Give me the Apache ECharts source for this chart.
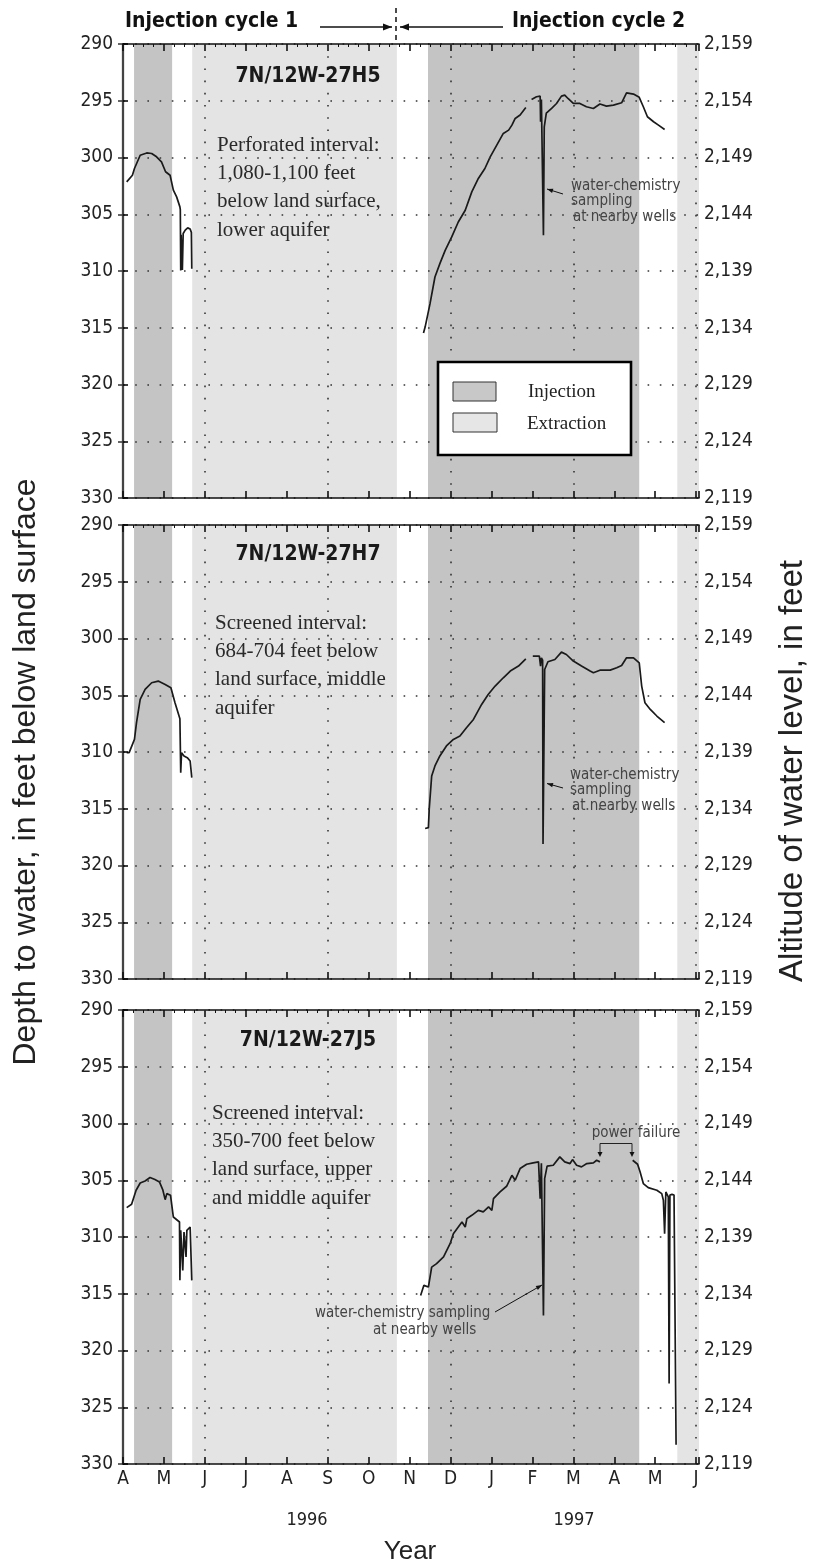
<!DOCTYPE html>
<html><head><meta charset="utf-8">
<script src="https://cdn.jsdelivr.net/npm/echarts@6/dist/echarts.min.js"></script>
<style>html,body{margin:0;padding:0;background:#fff}#c{width:817px;height:1562px}</style>
</head><body><div id="c"></div>
<script>
// ---------------- data ----------------
const monthLabels = ['A','M','J','J','A','S','O','N','D','J','F','M','A','M','J']; // Apr 1996 .. Jun 1997 (x = month index)
const yearLabels = ['1996','1997'];
const wellNames = ['7N/12W-27H5','7N/12W-27H7','7N/12W-27J5'];
const injectionPeriods = [[0.27,1.20],[7.45,12.61]];
const extractionPeriods = [[1.69,6.69],[13.54,14.07]];
const gridMonths = [2,5,8,11,14];
const LAND_ALT = 2449; // altitude = LAND_ALT - depth

// 7N/12W-27H5
const h5_1996 = [[0.09,302.15],[0.23,301.56],[0.28,300.97],[0.42,299.8],[0.58,299.6],[0.70,299.65],[0.82,299.94],[0.94,300.38],[1.04,301.26],[1.15,301.56],[1.23,302.88],[1.31,303.47],[1.39,304.35],[1.40,304.6],[1.41,309.95],[1.42,306.8],[1.44,306.9],[1.45,309.9],[1.47,306.7],[1.52,306.4],[1.58,306.2],[1.64,306.3],[1.67,306.6],[1.68,309.8]];
const h5_1997a = [[7.34,315.47],[7.38,314.94],[7.50,312.88],[7.62,310.53],[7.74,309.35],[7.87,308.18],[8.03,307.0],[8.19,305.68],[8.36,304.65],[8.52,303.03],[8.68,301.85],[8.84,300.97],[8.97,299.94],[9.13,298.91],[9.29,297.88],[9.42,297.59],[9.50,297.15],[9.58,296.56],[9.70,296.26],[9.84,295.59]];
const h5_1997b = [[9.98,294.88],[10.10,294.65],[10.19,294.6],[10.20,296.85],[10.22,294.9],[10.25,294.8],[10.27,306.85],[10.29,297.3],[10.34,296.1],[10.47,295.68],[10.59,295.24],[10.71,294.59],[10.79,294.5],[10.87,294.8],[11.0,295.24],[11.16,295.24],[11.32,295.53],[11.49,295.68],[11.65,295.29],[11.81,295.47],[11.98,295.38],[12.18,295.18],[12.30,294.3],[12.47,294.41],[12.61,294.7],[12.71,295.53],[12.81,296.41],[12.96,296.85],[13.08,297.15],[13.23,297.53]];

// 7N/12W-27H7
const h7_1996 = [[0.09,310.06],[0.15,310.06],[0.28,308.89],[0.33,307.42],[0.42,305.37],[0.54,304.49],[0.70,303.9],[0.86,303.75],[1.03,304.05],[1.17,304.34],[1.27,305.66],[1.39,307.07],[1.41,311.82],[1.43,310.06],[1.49,310.35],[1.57,310.5],[1.64,310.79],[1.68,312.26]];
const h7_1997a = [[7.38,316.74],[7.46,316.66],[7.48,315.04],[7.54,312.11],[7.62,311.23],[7.74,310.35],[7.90,309.47],[8.07,308.89],[8.23,308.59],[8.39,307.86],[8.56,307.13],[8.76,305.81],[8.92,304.93],[9.09,304.19],[9.29,303.46],[9.46,302.87],[9.66,302.43],[9.84,301.79]];
const h7_1997b = [[10.01,301.55],[10.17,301.55],[10.20,302.43],[10.22,301.7],[10.25,301.9],[10.26,318.1],[10.30,302.73],[10.38,302.05],[10.55,301.85],[10.71,301.2],[10.83,301.41],[11.0,301.99],[11.20,302.43],[11.41,302.87],[11.49,303.02],[11.65,302.79],[11.90,302.79],[12.06,302.58],[12.18,302.38],[12.30,301.7],[12.47,301.7],[12.61,302.14],[12.67,304.19],[12.75,305.66],[12.88,306.25],[13.04,306.83],[13.23,307.42]];

// 7N/12W-27J5
const j5_1996 = [[0.09,307.41],[0.21,307.12],[0.32,305.88],[0.42,305.24],[0.54,305.06],[0.66,304.76],[0.78,304.94],[0.89,305.15],[0.97,305.82],[1.03,306.71],[1.07,306.18],[1.16,306.32],[1.23,308.24],[1.38,308.68],[1.39,313.82],[1.41,309.41],[1.46,312.94],[1.49,309.56],[1.54,311.76],[1.56,309.41],[1.64,309.12],[1.68,313.82]];
const j5_1997a = [[7.27,315.15],[7.35,314.26],[7.46,314.41],[7.54,312.65],[7.66,312.35],[7.83,311.76],[7.99,310.59],[8.07,309.71],[8.19,309.12],[8.28,308.68],[8.36,309.12],[8.40,308.38],[8.52,308.09],[8.68,307.65],[8.80,307.79],[8.93,307.35],[9.01,307.65],[9.05,306.62],[9.21,306.03],[9.37,305.53],[9.50,304.56],[9.58,305.0],[9.70,303.97],[9.86,303.59],[10.02,303.47],[10.15,303.38],[10.19,306.62],[10.22,303.5],[10.25,303.38],[10.27,316.91],[10.30,304.85],[10.36,303.76],[10.51,303.68],[10.67,302.94],[10.79,303.38],[10.92,303.53],[10.98,303.18],[11.08,303.68],[11.20,303.82],[11.33,303.53],[11.49,303.47],[11.57,303.24],[11.65,303.38]];
const j5_1997b = [[12.45,303.24],[12.57,303.59],[12.63,304.26],[12.71,305.29],[12.83,305.65],[13.04,305.88],[13.16,306.18],[13.20,306.76],[13.23,309.71],[13.26,306.03],[13.32,306.47],[13.34,322.9],[13.36,306.3],[13.41,306.24],[13.46,306.3],[13.50,306.4],[13.51,328.3]];

const wellSeries = [[h5_1996,h5_1997a,h5_1997b],[h7_1996,h7_1997a,h7_1997b],[j5_1996,j5_1997a,j5_1997b]];

// ---------------- layout / style ----------------
const panelTops = [44, 525, 1010];
const PH = 454;
const FN = "'Liberation Sans Narrow','DejaVu Sans Condensed','Roboto Condensed','Liberation Sans',sans-serif";
const FS = "'Liberation Serif','DejaVu Serif',serif";
const FA = "'Liberation Sans',Arial,sans-serif";
const INJ = '#c4c4c4', EXT = '#e4e4e4';
const dotted = {type:[1.6,10.6], color:'#333', width:1.6};

const chart = echarts.init(document.getElementById('c'), null, {renderer:'canvas'});

const grids = [], xAxes = [], yAxes = [], series = [];
panelTops.forEach((top,i)=>{
  grids.push({left:123, right:118, top:top, height:PH});
  const xBase = {gridIndex:i, type:'value', min:0, max:14.07, interval:1, splitLine:{show:false}, z:4,
    axisLine:{lineStyle:{color:'#111', width:1.6}},
    axisTick:{inside:true, length:7, lineStyle:{color:'#111', width:1.6}}};
  xAxes.push(Object.assign({}, xBase, {position:'bottom',
    axisLabel:{show:i===2, margin:6, fontSize:19, color:'#222', fontFamily:FN,
      formatter:v=>Math.abs(v-Math.round(v))<1e-6 ? (monthLabels[Math.round(v)]||'') : ''}}));
  xAxes.push(Object.assign({}, xBase, {position:'top', axisLabel:{show:false},
    minorTick:{show:true, splitNumber:4, length:3, lineStyle:{color:'#111', width:1}}}));
  yAxes.push({gridIndex:i, type:'value', inverse:true, min:290, max:330, interval:5, position:'left', z:4,
    axisLine:{show:true, lineStyle:{color:'#000', width:2.2}},
    axisTick:{show:true, inside:true, length:5, lineStyle:{color:'#000', width:1.5}},
    axisLabel:{fontSize:19, color:'#222', fontFamily:FN, margin:10},
    splitLine:{show:true, lineStyle:dotted}});
  yAxes.push({gridIndex:i, type:'value', inverse:true, min:290, max:330, interval:5, position:'right', z:4,
    axisLine:{show:true, lineStyle:{color:'#555', width:1.6}},
    axisTick:{show:true, inside:true, length:5, lineStyle:{color:'#333', width:1.5}},
    axisLabel:{fontSize:19, color:'#222', fontFamily:FN, margin:5,
      formatter:v=>(LAND_ALT - v).toLocaleString('en-US')},
    splitLine:{show:false}});
  series.push({type:'line', xAxisIndex:2*i, yAxisIndex:2*i, data:[], z:1, silent:true,
    markArea:{silent:true, data:[
      ...injectionPeriods.map(r=>[{xAxis:r[0], itemStyle:{color:INJ}},{xAxis:r[1]}]),
      ...extractionPeriods.map(r=>[{xAxis:r[0], itemStyle:{color:EXT}},{xAxis:r[1]}])]}});
  series.push({type:'line', xAxisIndex:2*i, yAxisIndex:2*i, data:[], z:2, silent:true,
    markLine:{silent:true, symbol:['none','none'], label:{show:false}, lineStyle:dotted,
      data:gridMonths.map(m=>({xAxis:m}))}});
  wellSeries[i].forEach(seg=>series.push({type:'line', xAxisIndex:2*i, yAxisIndex:2*i, data:seg, z:3,
    symbol:'none', showSymbol:false, lineStyle:{color:'#1a1a1a', width:1.7}}));
});

// ---------------- annotations ----------------
function arrowHead(x1,y1,x2,y2,len,wid){
  const a=Math.atan2(y2-y1,x2-x1), c=Math.cos(a), s=Math.sin(a);
  return {type:'polygon', z:20, shape:{points:[[x2,y2],[x2-len*c+wid*s, y2-len*s-wid*c],[x2-len*c-wid*s, y2-len*s+wid*c]]}, style:{fill:'#111'}};
}
function arrow(x1,y1,x2,y2,w,len,wid){
  return [{type:'line', z:20, shape:{x1,y1,x2,y2}, style:{stroke:'#111', lineWidth:w}}, arrowHead(x1,y1,x2,y2,len,wid)];
}
function txt(x,y,t,font,size,opts){
  return Object.assign({type:'text', z:20, x, y, style:Object.assign({text:t, font:(opts&&opts.weight?opts.weight+' ':'')+size+'px '+font, fill:'#222', textAlign:'left', textVerticalAlign:'middle'}, opts&&opts.style||{})}, opts&&opts.extra||{});
}
const desc = [
  ['Perforated interval:','1,080-1,100 feet','below land surface,','lower aquifer'],
  ['Screened interval:','684-704 feet below','land surface, middle','aquifer'],
  ['Screened interval:','350-700 feet below','land surface, upper','and middle aquifer']];
const descPos = [[217,145],[215,623],[212,1113]];
const titleY = [77,555,1041];
const g = [];
// header
g.push(txt(125,22,'Injection cycle 1',FN,21,{weight:'bold', style:{fill:'#111'}}));
g.push(txt(512,22,'Injection cycle 2',FN,21,{weight:'bold', style:{fill:'#111'}}));
g.push(...arrow(320,27,392,27,1.5,9,3.5));
g.push(...arrow(503,27,400,27,1.5,9,3.5));
g.push({type:'line', z:20, shape:{x1:396,y1:8,x2:396,y2:44}, style:{stroke:'#111', lineWidth:1.5, lineDash:[5,4]}});
for(let i=0;i<3;i++){
  g.push(txt(308,titleY[i],wellNames[i],FN,21,{weight:'bold', style:{textAlign:'center', fill:'#1a1a1a'}}));
  desc[i].forEach((l,k)=>g.push(txt(descPos[i][0],descPos[i][1]+k*28.4,l,FS,21,{style:{fill:'#2a2a2a'}})));
}
// water-chemistry notes
[[571,186],[570,775]].forEach(p=>{
  g.push(txt(p[0],p[1],'water-chemistry',FN,15,{style:{fill:'#444'}}));
  g.push(txt(p[0],p[1]+15.5,'sampling',FN,15,{style:{fill:'#444'}}));
  g.push(txt(p[0]+2,p[1]+31,'at nearby wells',FN,15,{style:{fill:'#444'}}));
});
g.push(...arrow(563,194,547,189,1,6,2.2));
g.push(...arrow(563,788,547,783.5,1,6,2.2));
g.push(txt(315,1313,'water-chemistry sampling',FN,15,{style:{fill:'#444'}}));
g.push(txt(373,1330,'at nearby wells',FN,15,{style:{fill:'#444'}}));
g.push(...arrow(495,1312,542,1285,1,6,2.2));
// power failure
g.push(txt(636,1133,'power failure',FN,15,{style:{fill:'#444', textAlign:'center'}}));
g.push({type:'polyline', z:20, shape:{points:[[600,1152],[600,1143.5],[632,1143.5],[632,1152]]}, style:{stroke:'#222', lineWidth:1, fill:null}});
g.push(arrowHead(600,1143,600,1157,5,2.5));
g.push(arrowHead(632,1143,632,1157,5,2.5));
// legend
g.push({type:'rect', z:20, shape:{x:438,y:362,width:193,height:93}, style:{fill:'#fff', stroke:'#000', lineWidth:2.6}});
g.push({type:'rect', z:21, shape:{x:453,y:382,width:43,height:19}, style:{fill:'#c8c8c8', stroke:'#333', lineWidth:1}});
g.push({type:'rect', z:21, shape:{x:453,y:413,width:44,height:19}, style:{fill:'#e6e6e6', stroke:'#333', lineWidth:1}});
g.push(txt(528,392,'Injection',FS,19,{extra:{z:21}}));
g.push(txt(527,424,'Extraction',FS,19,{extra:{z:21}}));
// axis titles
g.push(txt(26,772,'Depth to water, in feet below land surface',FA,32,{style:{textAlign:'center'}, extra:{rotation:Math.PI/2}}));
g.push(txt(793,771,'Altitude of water level, in feet',FA,33,{style:{textAlign:'center'}, extra:{rotation:Math.PI/2}}));
g.push(txt(307,1520,yearLabels[0],FN,18,{style:{textAlign:'center'}}));
g.push(txt(574,1520,yearLabels[1],FN,18,{style:{textAlign:'center'}}));
g.push(txt(410,1552,'Year',FA,26,{style:{textAlign:'center'}}));

chart.setOption({
  animation:false, backgroundColor:'#fff',
  grid:grids, xAxis:xAxes, yAxis:yAxes, series:series, graphic:{elements:g}
});
</script></body></html>
